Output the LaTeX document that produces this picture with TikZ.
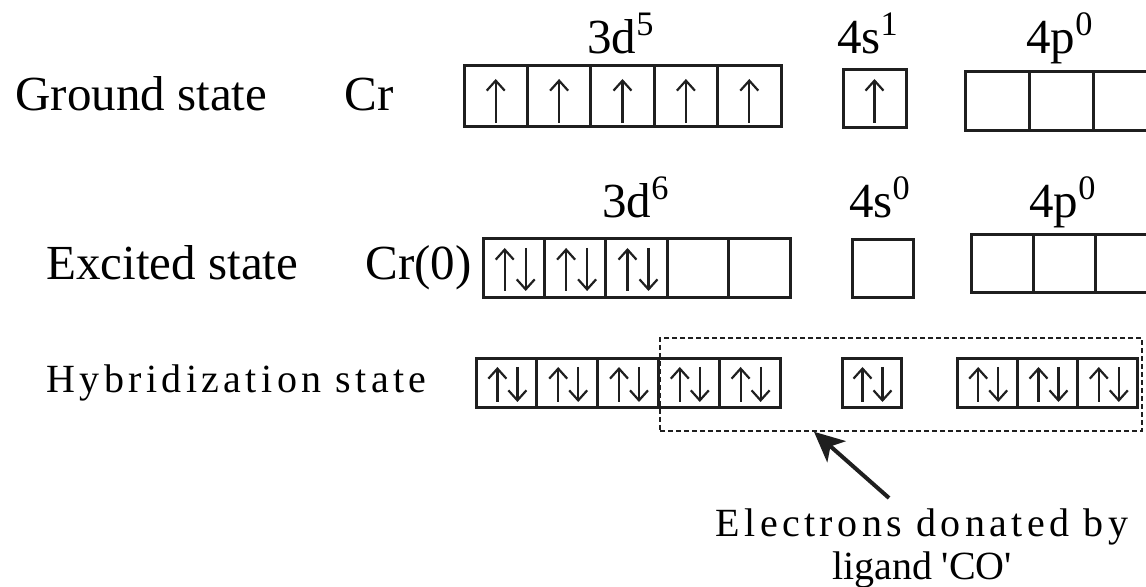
\documentclass[tikz,border=0pt]{standalone}
\usepackage{fontspec}
\setmainfont{Liberation Serif}
\newfontfamily\trackfont[LetterSpace=11]{Liberation Serif}
\usetikzlibrary{arrows.meta, positioning, fit}

\tikzset{
  orb/.style={draw=black!88, line width=1.5pt},
  spin/.style={draw=black!88, line width=1.1pt, -{Straight Barb[length=5pt,width=9pt]}},
  bigtext/.style={font=\fontsize{24.5}{29}\selectfont, inner sep=0pt},
  tracktext/.style={font=\trackfont\fontsize{20}{21.5}\selectfont, inner sep=0pt},
  donor/.style={draw=black!88, dash pattern=on 2.5pt off 1.5pt, line width=0.8pt, inner sep=0pt},
  pointer/.style={draw=black!88, line width=2pt, -{Stealth[length=15pt,width=14pt,inset=4pt]}},
}

\begin{document}
\begin{tikzpicture}[x=0.5pt, y=-0.5pt]
\useasboundingbox (0,0) rectangle (1146,587);
\clip (0,0) rectangle (1146,587);

% orbital boxes: left/top/width/height/count
\foreach \l/\t/\w/\h/\n in {464/66/63.4/61/5, 843/70/63/58/1, 965/72/64/59/3,
    483/239/61.4/59/5, 852/240/61/58/1, 971/235/62/58/3,
    476/359/60.8/49/5, 842/359/59/49/1, 957/359/60.3/49/3}
  \foreach \i in {1,...,\n}
    \draw[orb] (\l+\w*\i-\w,\t) rectangle ++(\w,\h);

% single electrons (ground state)
\foreach \c in {495.7, 559.1, 622.5, 685.9, 749.3, 874.5}
  \draw[spin] (\c,123) -- (\c,79);

% paired electrons (excited state)
\foreach \c in {513.7, 575.1, 636.5} {
  \draw[spin] (\c-9,291) -- (\c-9,248);
  \draw[spin] (\c+12,248) -- (\c+12,291);
}

% paired electrons (hybridization state)
\foreach \c in {506.4, 567.2, 628, 688.8, 749.6, 871.5, 987.2, 1047.5, 1107.8} {
  \draw[spin] (\c-9,402) -- (\c-9,367);
  \draw[spin] (\c+11,367) -- (\c+11,402);
}

% orbital labels
\node[bigtext, anchor=base] (d5) at (621,54) {3d\textsuperscript{5}};
\node[bigtext, anchor=base] (s1) at (868,54) {4s\textsuperscript{1}};
\node[bigtext, anchor=base] (p0a) at (1060,54) {4p\textsuperscript{0}};
\node[bigtext, anchor=base] (d6) at (636,218) {3d\textsuperscript{6}};
\node[bigtext, anchor=base] (s0) at (880,218) {4s\textsuperscript{0}};
\node[bigtext, anchor=base] (p0b) at (1063,218) {4p\textsuperscript{0}};

% state labels
\node[bigtext, anchor=base west] (ground) at (15,111) {Ground state};
\node[bigtext, anchor=base west] (cr) at (344,111) {Cr};
\node[bigtext, anchor=base west] (excited) at (46,280) {Excited state};
\node[bigtext, anchor=base west] (crzero) at (365,280) {Cr(0)};
\node[tracktext, anchor=base west] (hybrid) at (46,393) {Hybridization state};

% ligand electrons
\coordinate (dnw) at (660,338);
\coordinate (dse) at (1142,431);
\node[donor, fit=(dnw)(dse)] (donor) {};
\node[tracktext, align=center, anchor=north] (note) at (922,508)
  {Electrons donated by\\{\rmfamily ligand \textquotesingle CO\textquotesingle}};
\coordinate (tail) at (889,498);
\coordinate (tipx) at (814,0);
\draw[pointer] (tail) -- (donor.south -| tipx);
\end{tikzpicture}
\end{document}
